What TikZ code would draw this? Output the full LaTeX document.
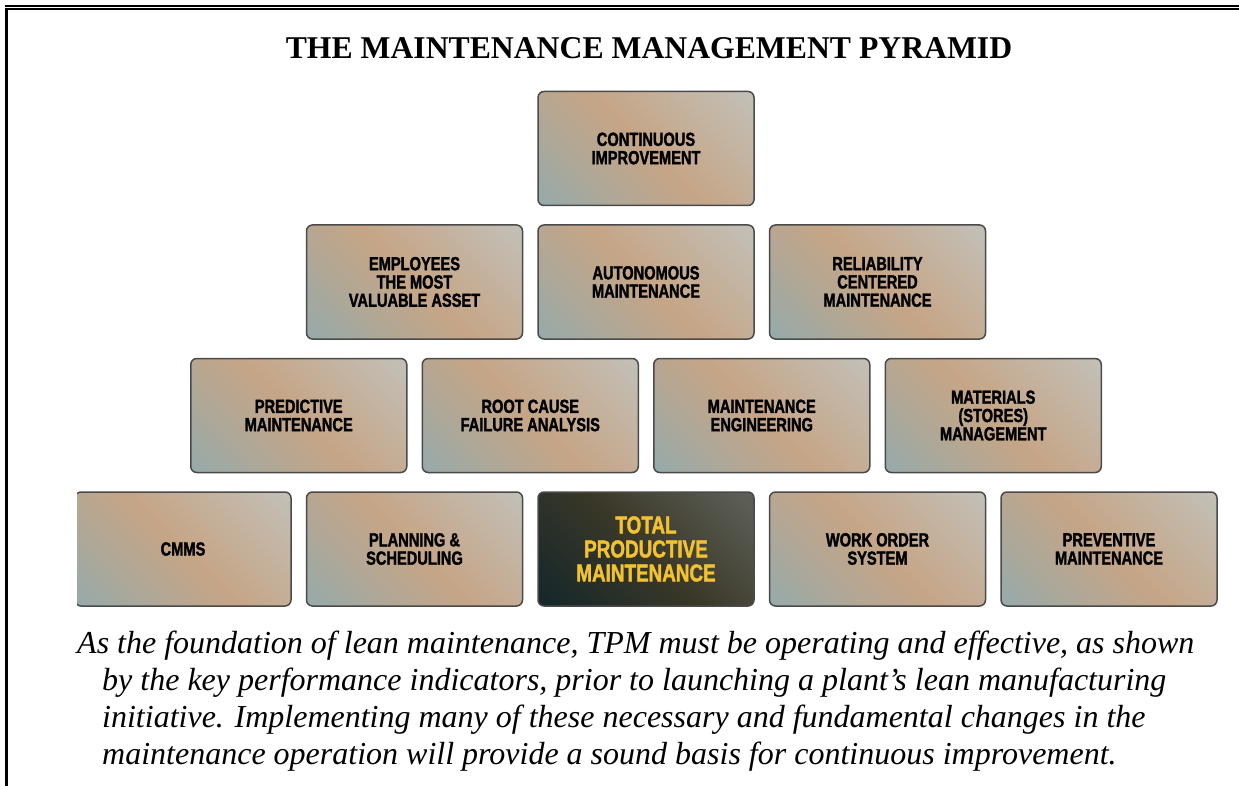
\documentclass[tikz,border=0pt]{standalone}
\usepackage{fontspec}
\setmainfont{Liberation Serif}
\newfontfamily\boxfont[FakeStretch=0.77,FakeBold=1.6]{Liberation Sans}
\usepackage{xcolor}
\usepackage{tikz}
\usetikzlibrary{positioning,calc}

\definecolor{boxblue}{HTML}{96AAAA}
\definecolor{boxtan}{HTML}{C6A586}
\definecolor{boxgrey}{HTML}{C2C0B8}
\colorlet{boxmixa}{boxblue!45!boxtan}
\colorlet{boxmixb}{boxtan!55!boxgrey}
\definecolor{boxedge}{HTML}{4A4A4A}
\definecolor{tpmdark}{HTML}{18282A}
\definecolor{tpmolive}{HTML}{3A3828}
\definecolor{tpmgrey}{HTML}{5C5E56}
\definecolor{tpmyellow}{HTML}{F2C232}

\pgfdeclarehorizontalshading{boxshade}{100bp}{color(0bp)=(boxblue); color(15bp)=(boxblue); color(33bp)=(boxmixa); color(50bp)=(boxtan); color(66bp)=(boxmixb); color(85bp)=(boxgrey); color(100bp)=(boxgrey)}
\pgfdeclarehorizontalshading{tpmshade}{100bp}{color(0bp)=(tpmdark); color(18bp)=(tpmdark); color(50bp)=(tpmolive); color(82bp)=(tpmgrey); color(100bp)=(tpmgrey)}

\begin{document}
\begin{tikzpicture}[
            x=1pt, y=-1pt,
            box/.style={draw=boxedge, line width=1.5pt, rounded corners=6pt, shading=boxshade, shading angle=45,
                minimum width=216pt, minimum height=114pt, align=center,
                font=\boxfont\bfseries\fontsize{19}{18.3}\selectfont},
            tpmbox/.style={box, shading=tpmshade, text=tpmyellow, font=\boxfont\bfseries\fontsize{24.5}{24}\selectfont},
            caption/.style={anchor=base west, inner sep=0pt, font=\itshape\fontsize{32}{37}\selectfont}
        ]
            \useasboundingbox (0,0) rectangle (1239,786);

            % frame
            \draw[line width=2pt] (5,6) -- (1239,6);
            \draw[line width=2pt] (5,9) -- (1239,9);
            \draw[line width=2.5pt] (6.3,8) -- (6.3,786);

            \node[anchor=base, font=\bfseries\fontsize{31.7}{36}\selectfont] (title) at (649,59) {THE MAINTENANCE MANAGEMENT PYRAMID};

            \begin{scope}
                \clip (77,0) rectangle (1239,786);
                \node[box] (cont) at (646,148.5) {CONTINUOUS\\IMPROVEMENT};

                \node[box, below=18pt of cont] (autonomous) {AUTONOMOUS\\MAINTENANCE};
                \node[box, left=14pt of autonomous] (employees) {EMPLOYEES\\THE MOST\\VALUABLE ASSET};
                \node[box, right=14pt of autonomous] (reliability) {RELIABILITY\\CENTERED\\MAINTENANCE};

                \node[box, below=18pt of {$(employees.south)!0.5!(autonomous.south)$}] (rootcause) {ROOT CAUSE\\FAILURE ANALYSIS};
                \node[box, left=14pt of rootcause] (predictive) {PREDICTIVE\\MAINTENANCE};
                \node[box, below=18pt of {$(autonomous.south)!0.5!(reliability.south)$}] (mainteng) {MAINTENANCE\\ENGINEERING};
                \node[box, right=14pt of mainteng] (materials) {MATERIALS\\(STORES)\\MANAGEMENT};

                \node[tpmbox, below=18pt of {$(rootcause.south)!0.5!(mainteng.south)$}] (tpm) {TOTAL\\PRODUCTIVE\\MAINTENANCE};
                \node[box, left=14pt of tpm] (planning) {PLANNING \&\\SCHEDULING};
                \node[box, left=14pt of planning] (cmms) {CMMS};
                \node[box, right=14pt of tpm] (workorder) {WORK ORDER\\SYSTEM};
                \node[box, right=14pt of workorder] (preventive) {PREVENTIVE\\MAINTENANCE};
            \end{scope}

            \node[caption] (cap1) at (77,653) {As the foundation of lean maintenance, TPM must be operating and effective, as shown};
            \node[caption] (cap2) at (102,690) {by the key performance indicators, prior to launching a plant’s lean manufacturing};
            \node[caption] (cap3) at (102,727) {initiative. Implementing many of these necessary and fundamental changes in the};
            \node[caption] (cap4) at (102,764) {maintenance operation will provide a sound basis for continuous improvement.};
        \end{tikzpicture}
\end{document}
